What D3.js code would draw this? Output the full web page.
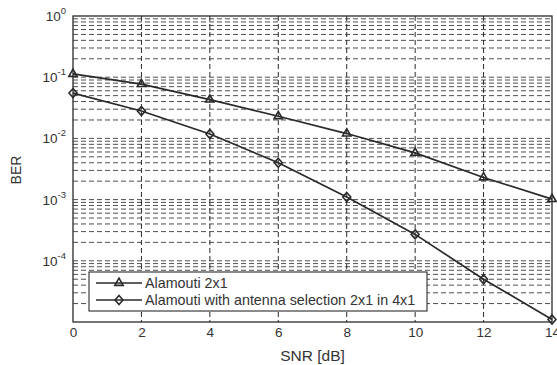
<!DOCTYPE html>
<html><head><meta charset="utf-8">
<script src="https://cdn.jsdelivr.net/npm/d3@7"></script>
<style>body{margin:0;background:#fff}svg{display:block}text{font-family:"Liberation Sans",Arial,sans-serif;fill:#333}</style>
</head><body><svg id="c" width="557" height="365"></svg>
<script>
const snr = [0, 2, 4, 6, 8, 10, 12, 14];
const berAlamouti = [0.113, 0.077, 0.043, 0.023, 0.012, 0.0058, 0.0023, 0.00102];
const berSelection = [0.055, 0.028, 0.0118, 0.0040, 0.0011, 0.00027, 0.000050, 0.000011];
const xTicks = [0, 2, 4, 6, 8, 10, 12, 14];
const yTickExps = [0, -1, -2, -3, -4];
const seriesNames = ["Alamouti 2x1", "Alamouti with antenna selection 2x1 in 4x1"];

const svg = d3.select("#c");
const m = {l: 73, r: 552, t: 16, b: 322};
const x = d3.scaleLinear().domain([0, 14]).range([m.l, m.r]);
const y = d3.scaleLog().domain([1e-5, 1]).range([m.b, m.t]);
const ink = "#2a2a2a";

// grid
const g = svg.append("g");
const minors = [];
for (let e = -5; e < 0; e++) for (let k = 1; k <= 9; k++) minors.push(k * Math.pow(10, e));
g.selectAll("line.h").data(minors.filter(v => v > 1e-5)).enter().append("line")
  .attr("x1", m.l).attr("x2", m.r).attr("y1", d => y(d)).attr("y2", d => y(d))
  .attr("stroke", "#3a3a3a").attr("stroke-width", 0.9).attr("stroke-dasharray", "5,3");
g.selectAll("line.v").data(xTicks.slice(1, -1)).enter().append("line")
  .attr("y1", m.t).attr("y2", m.b).attr("x1", d => x(d)).attr("x2", d => x(d))
  .attr("stroke", ink).attr("stroke-width", 1).attr("stroke-dasharray", "5,3");

// frame
svg.append("rect").attr("x", m.l).attr("y", m.t).attr("width", m.r - m.l).attr("height", m.b - m.t)
  .attr("fill", "none").attr("stroke", ink).attr("stroke-width", 1.3);

// x axis
const xa = svg.append("g").attr("transform", `translate(0,${m.b})`)
  .call(d3.axisBottom(x).tickValues(xTicks).tickSize(0).tickPadding(5).tickFormat(d3.format("d")));
xa.select(".domain").remove();
xa.selectAll("text").attr("font-size", 13.5).style("fill", "#333");

// y tick labels with superscripts
const yl = svg.append("g");
yTickExps.forEach(e => {
  const t = yl.append("text").attr("x", 66).attr("y", y(Math.pow(10, e)) + 5)
    .attr("text-anchor", "end").attr("font-size", 13.5);
  t.append("tspan").text("10");
  t.append("tspan").attr("dy", -7).attr("font-size", 9.5).text(String(e));
});

// axis titles
svg.append("text").attr("x", x(7)).attr("y", 361).attr("text-anchor", "middle").attr("font-size", 15.5).text("SNR [dB]");
svg.append("text").attr("transform", `translate(21,170) rotate(-90)`)
  .attr("text-anchor", "middle").attr("font-size", 14).text("BER");

// series
const line = d3.line().x(d => x(d[0])).y(d => y(d[1]));
const tri = d3.symbol().type(d3.symbolTriangle).size(30);
const dia = "M0,-4.5L4,0L0,4.5L-4,0Z";
const series = [
  {vals: berAlamouti, marker: tri()},
  {vals: berSelection, marker: dia}
];
series.forEach(s => {
  const pts = snr.map((v, i) => [v, s.vals[i]]);
  svg.append("path").attr("d", line(pts)).attr("fill", "none").attr("stroke", ink).attr("stroke-width", 1.7);
  svg.selectAll(null).data(pts).enter().append("path").attr("d", s.marker)
    .attr("transform", d => `translate(${x(d[0])},${y(d[1])})`)
    .attr("fill", "none").attr("stroke", ink).attr("stroke-width", 1.6);
});

// legend
const lg = svg.append("g");
lg.append("rect").attr("x", 89).attr("y", 272).attr("width", 338).attr("height", 39)
  .attr("fill", "#fff").attr("stroke", ink).attr("stroke-width", 1.1);
seriesNames.forEach((n, i) => {
  const yy = 283 + i * 17;
  lg.append("line").attr("x1", 96).attr("x2", 142).attr("y1", yy).attr("y2", yy).attr("stroke", ink).attr("stroke-width", 1.7);
  lg.append("path").attr("d", series[i].marker).attr("transform", `translate(119,${yy})`)
    .attr("fill", "none").attr("stroke", ink).attr("stroke-width", 1.6);
  lg.append("text").attr("x", 145).attr("y", yy + 5).attr("font-size", 14.3).text(n);
});
</script></body></html>
